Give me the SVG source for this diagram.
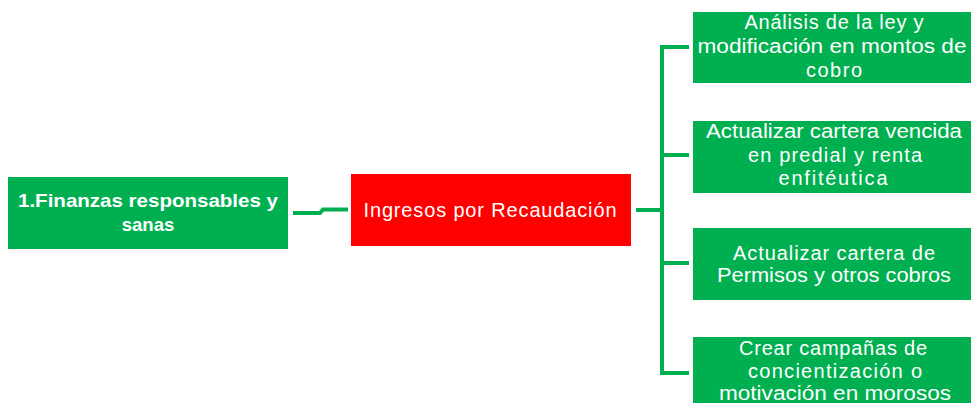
<svg xmlns="http://www.w3.org/2000/svg" width="971" height="403" viewBox="0 0 971 403">
<style>
.g{fill:#00B050}
.r{fill:#FF0000}
.t{font-family:"Liberation Sans",Arial,sans-serif;font-size:20px;fill:#fff;text-anchor:middle}
.b{font-weight:bold;font-size:18.5px}
.c{fill:none;stroke:#00B050;stroke-width:4}
</style>
<rect width="971" height="403" fill="#fff"/>
<g id="connectors">
<path class="c" d="M293,213 H320 L323,209.5 H348"/>
<path class="c" d="M636,210 H662 M662,45 V375 M660,47 H689 M660,155 H689 M660,263 H689 M660,373 H689"/>
</g>
<g id="n1">
<rect class="g" x="8" y="177" width="280" height="72"/>
<text class="t b" x="148" y="207" textLength="260" lengthAdjust="spacingAndGlyphs">1.Finanzas responsables y</text>
<text class="t b" x="148" y="231">sanas</text>
</g>
<g id="n2">
<rect class="r" x="351" y="174" width="280" height="72"/>
<text class="t" x="490" y="217" textLength="253">Ingresos por Recaudación</text>
</g>
<g id="n3">
<rect class="g" x="693" y="12" width="278" height="71"/>
<text class="t" x="834" y="29" textLength="179">Análisis de la ley y</text>
<text class="t" x="832" y="53" textLength="269" lengthAdjust="spacingAndGlyphs">modificación en montos de</text>
<text class="t" x="834" y="77" textLength="56">cobro</text>
</g>
<g id="n4">
<rect class="g" x="693" y="121" width="278" height="72"/>
<text class="t" x="834" y="138" textLength="256" lengthAdjust="spacingAndGlyphs">Actualizar cartera vencida</text>
<text class="t" x="835" y="162" textLength="174">en predial y renta</text>
<text class="t" x="833" y="185" textLength="109">enfitéutica</text>
</g>
<g id="n5">
<rect class="g" x="693" y="228" width="278" height="72"/>
<text class="t" x="834" y="260" textLength="202">Actualizar cartera de</text>
<text class="t" x="834" y="282" textLength="234" lengthAdjust="spacingAndGlyphs">Permisos y otros cobros</text>
</g>
<g id="n6">
<rect class="g" x="693" y="337" width="278" height="80"/>
<text class="t" x="833" y="355" textLength="188">Crear campañas de</text>
<text class="t" x="835" y="378" textLength="174">concientización o</text>
<text class="t" x="835" y="400" textLength="232" lengthAdjust="spacingAndGlyphs">motivación en morosos</text>
</g>
</svg>
